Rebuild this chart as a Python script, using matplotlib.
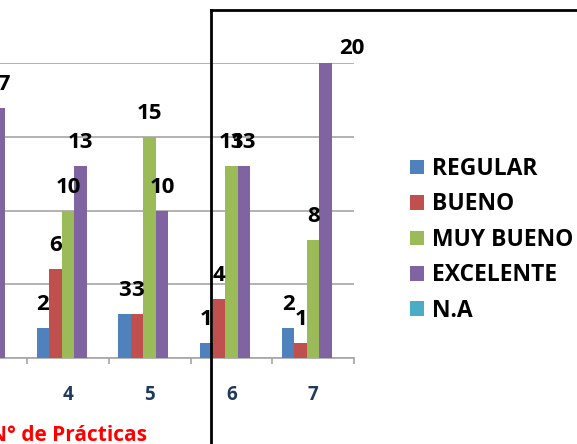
import numpy as np
import matplotlib.pyplot as plt
from matplotlib.lines import Line2D

plt.rcParams['font.family'] = ['Open Sans', 'DejaVu Sans']

# Data (categories 1-3 are cut off in the reference; only the 17 of category 3 is visible)
categories = ['1', '2', '3', '4', '5', '6', '7']
series = ['REGULAR', 'BUENO', 'MUY BUENO', 'EXCELENTE', 'N.A']
regular = [np.nan, np.nan, np.nan, 2, 3, 1, 2]
bueno = [np.nan, np.nan, np.nan, 6, 3, 4, 1]
muy_bueno = [np.nan, np.nan, np.nan, 10, 15, 13, 8]
excelente = [np.nan, np.nan, 17, 13, 10, 13, 20]
na = [0, 0, 0, 0, 0, 0, 0]
colors = ['#4F81BD', '#C0504D', '#9BBB59', '#8064A2', '#4BACC6']

W, H = 577, 444
fig = plt.figure(figsize=(W / 100, H / 100), dpi=100)
# plot area runs off the left edge of the picture
ax = fig.add_axes([-218 / W, (H - 357.7) / H, 572 / W, (357.7 - 63.5) / H])

x = np.arange(len(categories))
w = 0.153
for i, (name, vals, col) in enumerate(zip(series, [regular, bueno, muy_bueno, excelente, na], colors)):
    xs = x + (i - 2) * w
    ax.bar(xs, vals, w, color=col, label=name, zorder=3)
    for xi, v, cat in zip(xs, vals, categories):
        if np.isnan(v) or v == 0:
            continue
        off = (0, 13)
        if name == 'EXCELENTE' and cat == '7':
            off = (19, 7)  # label moved aside in the original
        ax.annotate(f'{v:g}', (xi, v), xytext=off, textcoords='offset points',
                    ha='center', va='baseline', fontsize=16, fontweight='bold',
                    color='black', zorder=4)

ax.set_xlim(-0.5, len(categories) - 0.5)
ax.set_ylim(0, 20)
ax.set_yticks([0, 5, 10, 15, 20])
ax.yaxis.grid(True, color='#A6A6A6', lw=1.2, zorder=0)
ax.tick_params(axis='y', length=0, labelleft=False)

ax.set_xticks(x)
ax.set_xticklabels(categories, fontsize=13.5, fontweight='bold', color='#1F3A5C')
ax.set_xticks(np.arange(len(categories) + 1) - 0.5, minor=True)
ax.tick_params(axis='x', which='major', length=0, pad=19.5)
ax.tick_params(axis='x', which='minor', length=4.5, width=1.2, color='#A6A6A6')

for side in ['left', 'right', 'top']:
    ax.spines[side].set_visible(False)
ax.spines['bottom'].set_color('#A6A6A6')
ax.spines['bottom'].set_linewidth(1.2)

ax.set_xlabel('N° de Prácticas', color='red', fontweight='bold', fontsize=15, labelpad=14.5)

fig.legend(loc='upper left', bbox_to_anchor=(410 / W, 1 - 157 / H), frameon=False,
           prop={'weight': 'bold', 'size': 16.5}, handlelength=0.6, handleheight=0.6,
           handletextpad=0.35, labelspacing=0.5, borderpad=0, borderaxespad=0)

# black frame of an overlapping shape
fig.add_artist(Line2D([211 / W, 211 / W], [0, 1 - 10 / H], color='black', lw=2))
fig.add_artist(Line2D([211 / W, 1], [1 - 10 / H, 1 - 10 / H], color='black', lw=2))

fig.savefig('out.png', dpi=100)
